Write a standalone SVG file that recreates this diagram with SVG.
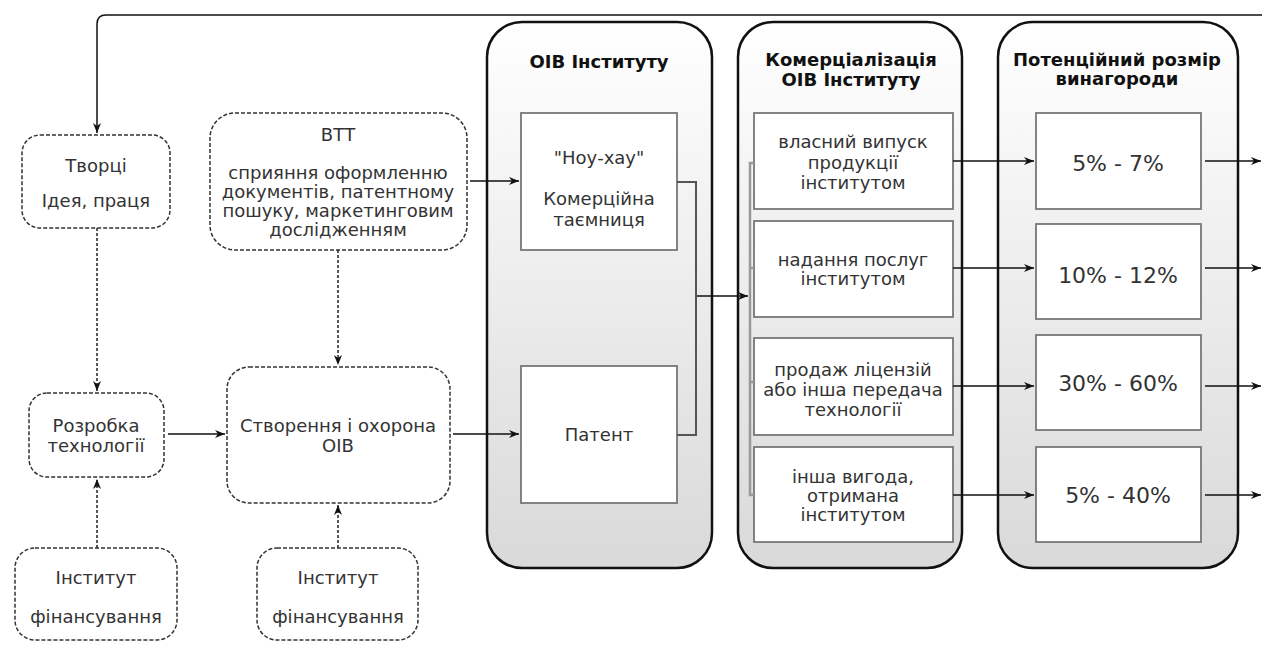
<svg xmlns="http://www.w3.org/2000/svg" width="1262" height="646" viewBox="0 0 1262 646">
<defs>
<linearGradient id="colg" x1="0" y1="0" x2="0" y2="1">
<stop offset="0" stop-color="#ffffff"/>
<stop offset="1" stop-color="#d9d9d9"/>
</linearGradient>
<marker id="arr" viewBox="0 0 10 10" refX="10" refY="5" markerWidth="10" markerHeight="10" markerUnits="userSpaceOnUse" orient="auto">
<path d="M0,1 L10,5 L0,9 L3,5 Z" fill="#111"/>
</marker>
</defs>
<style>
.t{font-family:"DejaVu Sans","Noto Sans",sans-serif;font-size:18px;fill:#333;text-anchor:middle}
.tb{font-family:"DejaVu Sans","Noto Sans",sans-serif;font-size:18px;font-weight:bold;fill:#111;text-anchor:middle}
.tp{font-family:"DejaVu Sans","Noto Sans",sans-serif;font-size:22px;fill:#333;text-anchor:middle}
.dash{fill:#fff;stroke:#333;stroke-width:1.5;stroke-dasharray:4,2}
.col{fill:url(#colg);stroke:#111;stroke-width:2.5}
.box{fill:#fff;stroke:#777;stroke-width:1.8}
.c{fill:none;stroke:#111;stroke-width:1.5}
.cd{fill:none;stroke:#222;stroke-width:1.5;stroke-dasharray:3,2}
.cg{fill:none;stroke:#555;stroke-width:2}
.br{fill:none;stroke:#999;stroke-width:2.5}
</style>

<g id="col-oiv">
<rect class="col" x="487" y="22" width="225" height="546" rx="35"/>
<text class="tb" x="599" y="68">ОІВ Інституту</text>
</g>
<g id="col-comm">
<rect class="col" x="738" y="22" width="224" height="546" rx="35"/>
<text class="tb" x="851" y="66">Комерціалізація</text>
<text class="tb" x="851" y="86">ОІВ Інституту</text>
</g>
<g id="col-reward">
<rect class="col" x="998" y="22" width="240" height="546" rx="35"/>
<text class="tb" x="1117" y="66">Потенційний розмір</text>
<text class="tb" x="1117" y="85">винагороди</text>
</g>

<g id="tvortsi">
<rect class="dash" x="22" y="135" width="148" height="93" rx="18"/>
<text class="t" x="96" y="172">Творці</text>
<text class="t" x="96" y="207">Ідея, праця</text>
</g>
<g id="vtt">
<rect class="dash" x="210" y="113" width="257" height="137" rx="25"/>
<text class="t" x="338" y="141">ВТТ</text>
<text class="t" x="338" y="179">сприяння оформленню</text>
<text class="t" x="338" y="198">документів, патентному</text>
<text class="t" x="338" y="217">пошуку, маркетинговим</text>
<text class="t" x="338" y="236">дослідженням</text>
</g>
<g id="rozrobka">
<rect class="dash" x="29" y="393" width="135" height="84" rx="18"/>
<text class="t" x="96" y="432">Розробка</text>
<text class="t" x="96" y="452">технології</text>
</g>
<g id="stvorennia">
<rect class="dash" x="227" y="367" width="223" height="136" rx="22"/>
<text class="t" x="338" y="432">Створення і охорона</text>
<text class="t" x="338" y="452">ОІВ</text>
</g>
<g id="inst1">
<rect class="dash" x="15" y="548" width="162" height="92" rx="20"/>
<text class="t" x="96" y="584">Інститут</text>
<text class="t" x="96" y="623">фінансування</text>
</g>
<g id="inst2">
<rect class="dash" x="257" y="548" width="161" height="92" rx="20"/>
<text class="t" x="338" y="584">Інститут</text>
<text class="t" x="338" y="623">фінансування</text>
</g>

<g id="nouhau">
<rect class="box" x="521" y="113" width="156" height="137"/>
<text class="t" x="599" y="164">"Ноу-хау"</text>
<text class="t" x="599" y="205">Комерційна</text>
<text class="t" x="599" y="226">таємниця</text>
</g>
<g id="patent">
<rect class="box" x="521" y="366" width="156" height="137"/>
<text class="t" x="599" y="441">Патент</text>
</g>

<g id="c2b1">
<rect class="box" x="754" y="113" width="199" height="96"/>
<text class="t" x="853" y="148">власний випуск</text>
<text class="t" x="853" y="169">продукції</text>
<text class="t" x="853" y="189">інститутом</text>
</g>
<g id="c2b2">
<rect class="box" x="754" y="221" width="199" height="96"/>
<text class="t" x="853" y="266">надання послуг</text>
<text class="t" x="853" y="285">інститутом</text>
</g>
<g id="c2b3">
<rect class="box" x="754" y="338" width="199" height="97"/>
<text class="t" x="853" y="376">продаж ліцензій</text>
<text class="t" x="853" y="396">або інша передача</text>
<text class="t" x="853" y="416">технології</text>
</g>
<g id="c2b4">
<rect class="box" x="754" y="447" width="199" height="95"/>
<text class="t" x="853" y="483">інша вигода,</text>
<text class="t" x="853" y="502">отримана</text>
<text class="t" x="853" y="521">інститутом</text>
</g>

<g id="c3b1">
<rect class="box" x="1036" y="113" width="165" height="96"/>
<text class="tp" x="1118" y="171">5% - 7%</text>
</g>
<g id="c3b2">
<rect class="box" x="1036" y="224" width="165" height="95"/>
<text class="tp" x="1118" y="283">10% - 12%</text>
</g>
<g id="c3b3">
<rect class="box" x="1036" y="335" width="165" height="95"/>
<text class="tp" x="1118" y="391">30% - 60%</text>
</g>
<g id="c3b4">
<rect class="box" x="1036" y="447" width="165" height="95"/>
<text class="tp" x="1118" y="503">5% - 40%</text>
</g>

<g id="connectors">
<path class="c" d="M1262,15 H106 Q97,15 97,24 V133" marker-end="url(#arr)"/>
<path class="cd" d="M97,228 V391" marker-end="url(#arr)"/>
<path class="cd" d="M97,548 V479" marker-end="url(#arr)"/>
<path class="cd" d="M338,250 V365" marker-end="url(#arr)"/>
<path class="cd" d="M338,548 V505" marker-end="url(#arr)"/>
<path class="c" d="M168,434 H225" marker-end="url(#arr)"/>
<path class="c" d="M453,434 H519" marker-end="url(#arr)"/>
<path class="c" d="M470,181 H519" marker-end="url(#arr)"/>
<path class="cg" d="M677,182 H696 V435 H677"/>
<path class="c" d="M697,296 H748" marker-end="url(#arr)"/>
<path class="br" d="M754,163 H750 V495 H754 M750,268 H754 M750,382 H754"/>
<path class="c" d="M953,161 H1034" marker-end="url(#arr)"/>
<path class="c" d="M953,268 H1034" marker-end="url(#arr)"/>
<path class="c" d="M953,386 H1034" marker-end="url(#arr)"/>
<path class="c" d="M953,495 H1034" marker-end="url(#arr)"/>
<path class="c" d="M1205,161 H1261" marker-end="url(#arr)"/>
<path class="c" d="M1205,268 H1261" marker-end="url(#arr)"/>
<path class="c" d="M1205,386 H1261" marker-end="url(#arr)"/>
<path class="c" d="M1205,495 H1261" marker-end="url(#arr)"/>
</g>
</svg>
